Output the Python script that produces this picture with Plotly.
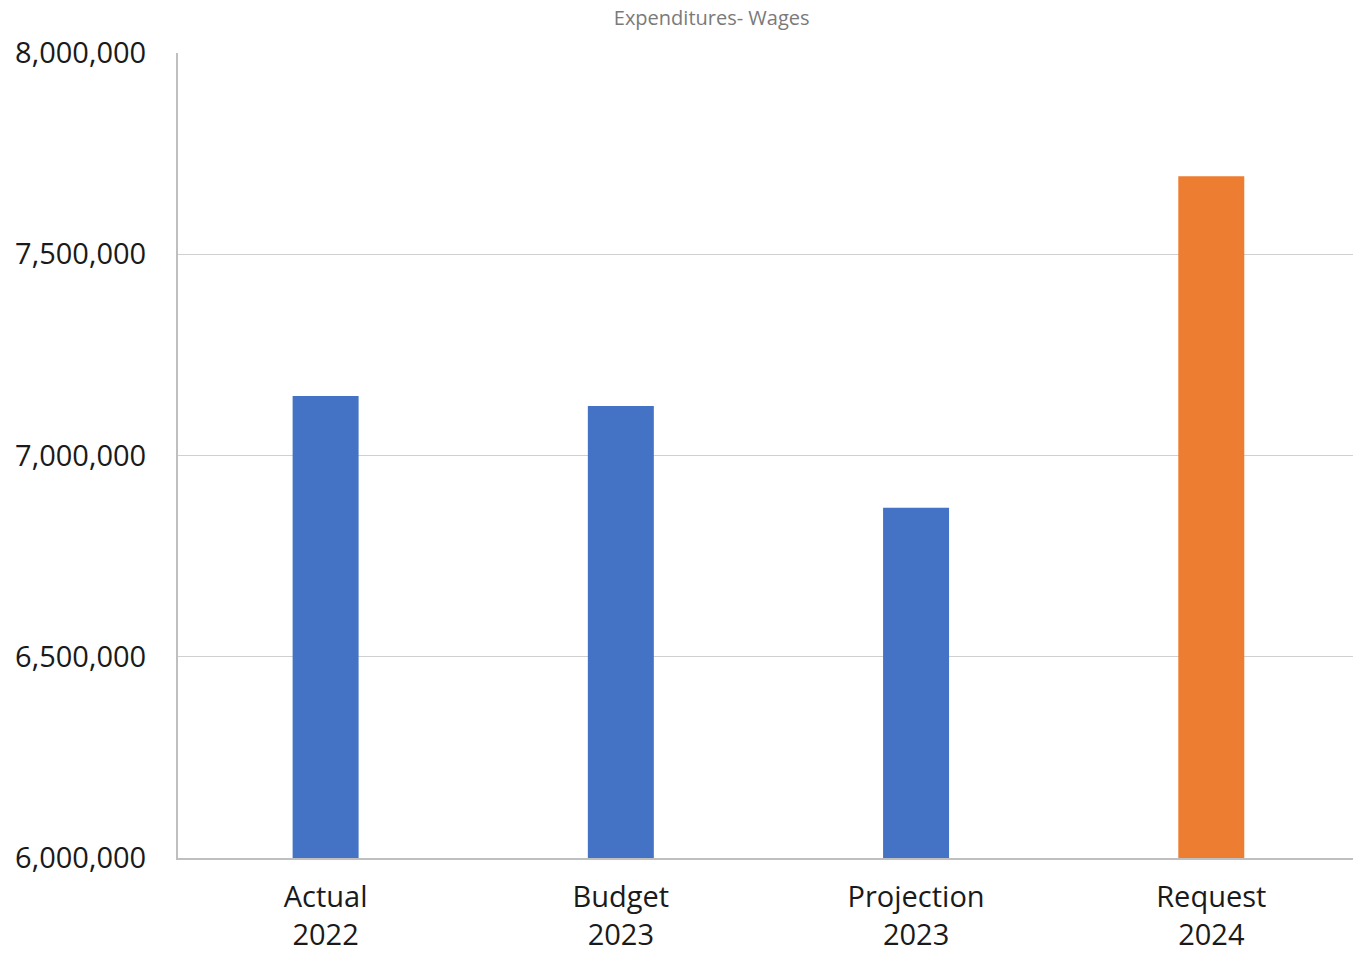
import plotly.graph_objects as go

# Wage expenditures by period
categories = ["Actual<br>2022", "Budget<br>2023", "Projection<br>2023", "Request<br>2024"]
wages = [7148000, 7123000, 6870000, 7694000]
bar_colors = ["#4472C4", "#4472C4", "#4472C4", "#ED7D31"]

y_ticks = [6000000, 6500000, 7000000, 7500000, 8000000]

fig = go.Figure(
    go.Bar(
        x=categories,
        y=wages,
        width=0.2235,
        marker=dict(color=bar_colors, line=dict(width=0)),
        hoverinfo="x+y",
    )
)

fig.update_layout(
    width=1353,
    height=954,
    margin=dict(l=178, r=0, t=53, b=96),
    paper_bgcolor="white",
    plot_bgcolor="white",
    showlegend=False,
    font=dict(family="Open Sans, Liberation Sans, sans-serif", color="#1a1a1a"),
    title=dict(
        text="Expenditures- Wages",
        x=0.526,
        xanchor="center",
        y=0.981,
        yanchor="middle",
        font=dict(size=20, color="#7a7a7a", family="Open Sans, sans-serif"),
    ),
    xaxis=dict(
        range=[-0.5, 3.48],
        automargin=False,
        showgrid=False,
        showline=True,
        linecolor="#bfbfbf",
        linewidth=2,
        ticks="",
        tickfont=dict(size=29, color="#1a1a1a"),
        ticklabelstandoff=12,
    ),
    yaxis=dict(
        range=[6000000, 8000000],
        automargin=False,
        tickvals=y_ticks,
        tickformat=",",
        showgrid=True,
        gridcolor="#d0d0d0",
        gridwidth=1,
        showline=True,
        linecolor="#bfbfbf",
        linewidth=2,
        ticks="",
        tickfont=dict(size=29, color="#1a1a1a"),
        ticklabelstandoff=24,
        zeroline=False,
    ),
)

fig.write_html("out.html")
